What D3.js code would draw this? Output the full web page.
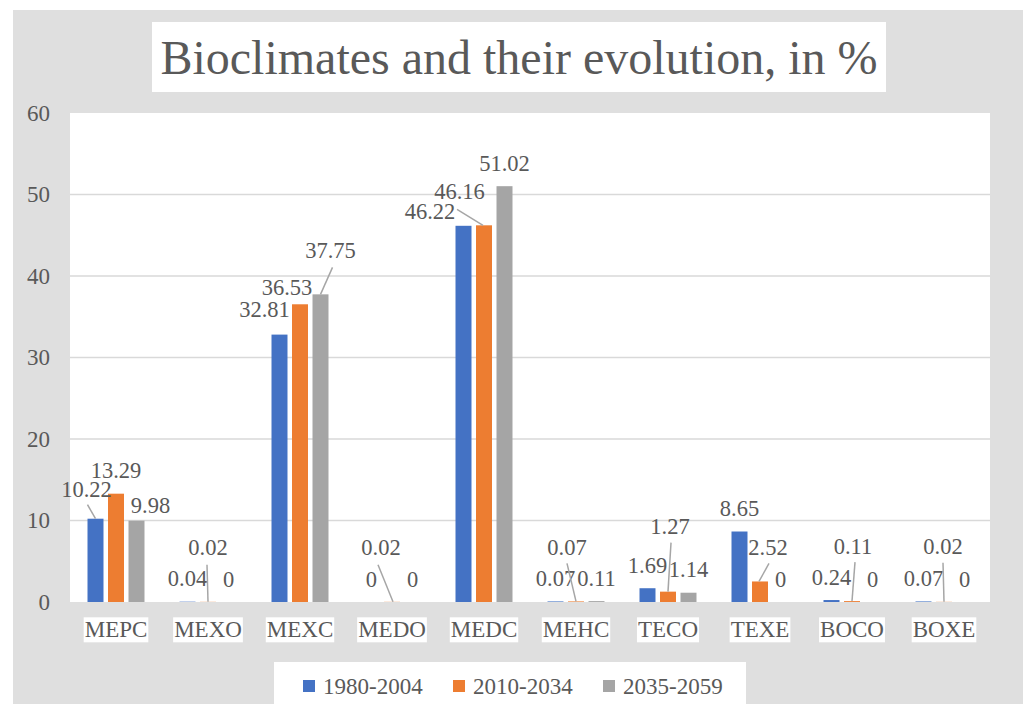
<!DOCTYPE html>
<html>
<head>
<meta charset="utf-8">
<script src="https://cdn.jsdelivr.net/npm/d3@7"></script>
<style>
  html, body { margin: 0; padding: 0; background: #fff; }
  text { font-family: "Liberation Serif", "Times New Roman", serif; fill: #595959; }
</style>
</head>
<body>
<div id="chart"></div>
<script>
// data
var categories = ["MEPC", "MEXO", "MEXC", "MEDO", "MEDC", "MEHC", "TECO", "TEXE", "BOCO", "BOXE"];
var seriesNames = ["1980-2004", "2010-2034", "2035-2059"];
var v1980 = [10.22, 0.04, 32.81, 0, 46.16, 0.07, 1.69, 8.65, 0.24, 0.07];
var v2010 = [13.29, 0.02, 36.53, 0.02, 46.22, 0.07, 1.27, 2.52, 0.11, 0.02];
var v2035 = [9.98, 0, 37.75, 0, 51.02, 0.11, 1.14, 0, 0, 0];
var yTicks = [0, 10, 20, 30, 40, 50, 60];
var colors = ["#4472C4", "#ED7D31", "#A5A5A5"];

// labels that were dragged away from their default spot (s = series, c = category)
// lead = [start dx, start dy from label centre, end dx from bar centre]
var labelMoves = [
  {s: 0, c: 0, dx: -9, dy: -6, lead: [1, 15, 0]},
  {s: 2, c: 0, dx: 14, dy: 8},
  {s: 0, c: 2, dx: -15, dy: -2},
  {s: 1, c: 2, dx: -13, dy: 6},
  {s: 2, c: 2, dx: 10, dy: -21, lead: [2, 17, 0]},
  {s: 0, c: 4, dx: -4, dy: -11},
  {s: 1, c: 4, dx: -54, dy: 9, lead: [27, -2, -1]},
  {s: 1, c: 1, dx: 0, dy: -31, lead: [-1, 17, 0]},
  {s: 1, c: 3, dx: -11, dy: -31, lead: [-3, 17, 1]},
  {s: 1, c: 5, dx: -9, dy: -31, lead: [0, 16, 0]},
  {s: 1, c: 6, dx: 2, dy: -42, lead: [1, 16, 0]},
  {s: 1, c: 7, dx: 8, dy: -11, lead: [1, 16, -1]},
  {s: 1, c: 8, dx: 1, dy: -32, lead: [2, 16, 0]},
  {s: 1, c: 9, dx: -1, dy: -32, lead: [0, 16, 0]}
];

var svgWidth = 1026, svgHeight = 704;
var plot = {left: 70, right: 990, top: 113, bottom: 602};

var svg = d3.select("#chart").append("svg")
    .attr("width", svgWidth)
    .attr("height", svgHeight);

// grey chart area
svg.append("rect")
    .attr("x", 13).attr("y", 10)
    .attr("width", 1010).attr("height", 700)
    .attr("fill", "#dfdfdf");

// title
svg.append("rect")
    .attr("x", 152).attr("y", 22)
    .attr("width", 734).attr("height", 70)
    .attr("fill", "#fff");
svg.append("text")
    .attr("x", 519).attr("y", 74)
    .attr("text-anchor", "middle")
    .style("font-size", "48px")
    .text("Bioclimates and their evolution, in %");

var x = d3.scaleBand()
    .domain(categories)
    .range([plot.left, plot.right])
    .padding(0);

var xSub = d3.scaleBand()
    .domain(d3.range(seriesNames.length))
    .range([17.5, 74.5])
    .paddingInner(0.22)
    .paddingOuter(0);

var y = d3.scaleLinear()
    .domain([0, 60])
    .range([plot.bottom, plot.top]);

// plot area
svg.append("rect")
    .attr("x", plot.left).attr("y", y(60))
    .attr("width", plot.right - plot.left)
    .attr("height", y(0) - y(60))
    .attr("fill", "#fff");

svg.append("g").selectAll("line")
    .data(yTicks.filter(function(t) { return t > 0 && t < 60; }))
    .enter().append("line")
    .attr("x1", plot.left).attr("x2", plot.right)
    .attr("y1", function(d) { return y(d); })
    .attr("y2", function(d) { return y(d); })
    .attr("stroke", "#d9d9d9")
    .attr("stroke-width", 1.5);

// y axis labels
var yAxis = svg.append("g")
    .attr("transform", "translate(" + plot.left + ",0)")
    .call(d3.axisLeft(y).tickValues(yTicks).tickSize(0).tickPadding(20));
yAxis.select(".domain").remove();
yAxis.selectAll("text")
    .style("font-size", "23px")
    .attr("fill", "#595959");

// x axis labels with white boxes
var xAxis = svg.append("g")
    .attr("transform", "translate(0," + plot.bottom + ")")
    .call(d3.axisBottom(x).tickSize(0).tickPadding(19));
xAxis.select(".domain").remove();
xAxis.selectAll("text")
    .style("font-size", "23px")
    .attr("fill", "#595959");
xAxis.selectAll(".tick").each(function() {
  var t = d3.select(this).select("text");
  var b = t.node().getBBox();
  d3.select(this).insert("rect", "text")
    .attr("x", b.x - 1).attr("y", b.y)
    .attr("width", b.width + 2).attr("height", b.height)
    .attr("fill", "#fff");
});

var allSeries = [v1980, v2010, v2035];
var bars = [];
allSeries.forEach(function(vals, s) {
  vals.forEach(function(v, c) {
    bars.push({s: s, c: c, value: v});
  });
});

function barX(d) { return x(categories[d.c]) + xSub(d.s); }
function barCx(d) { return barX(d) + xSub.bandwidth() / 2; }

svg.append("g").selectAll("rect")
    .data(bars)
    .enter().append("rect")
    .attr("x", barX)
    .attr("y", function(d) { return y(d.value); })
    .attr("width", xSub.bandwidth())
    .attr("height", function(d) { return y(0) - y(d.value); })
    .attr("fill", function(d) { return colors[d.s]; });

// data labels
var labelG = svg.append("g");
bars.forEach(function(d) {
  var mv = labelMoves.find(function(m) { return m.s === d.s && m.c === d.c; });
  var cx = barCx(d) + (mv ? mv.dx : 0);
  var cy = y(d.value) - 23 + (mv ? mv.dy : 0);
  if (mv && mv.lead) {
    labelG.append("line")
        .attr("x1", cx + mv.lead[0]).attr("y1", cy + mv.lead[1])
        .attr("x2", barCx(d) + mv.lead[2]).attr("y2", y(d.value))
        .attr("stroke", "#a6a6a6")
        .attr("stroke-width", 1.5);
  }
  labelG.append("text")
      .attr("x", cx).attr("y", cy + 7.5)
      .attr("text-anchor", "middle")
      .style("font-size", "22.5px")
      .text(String(d.value));
});

// legend
svg.append("rect")
    .attr("x", 274).attr("y", 662)
    .attr("width", 472).attr("height", 50)
    .attr("fill", "#fff");
var legend = svg.append("g").selectAll("g")
    .data(seriesNames)
    .enter().append("g")
    .attr("transform", function(d, i) { return "translate(" + (303 + i * 150) + ",0)"; });
legend.append("rect")
    .attr("x", 0).attr("y", 680)
    .attr("width", 12).attr("height", 12)
    .attr("fill", function(d, i) { return colors[i]; });
legend.append("text")
    .attr("x", 20).attr("y", 694)
    .style("font-size", "23px")
    .text(function(d) { return d; });
</script>
</body>
</html>
